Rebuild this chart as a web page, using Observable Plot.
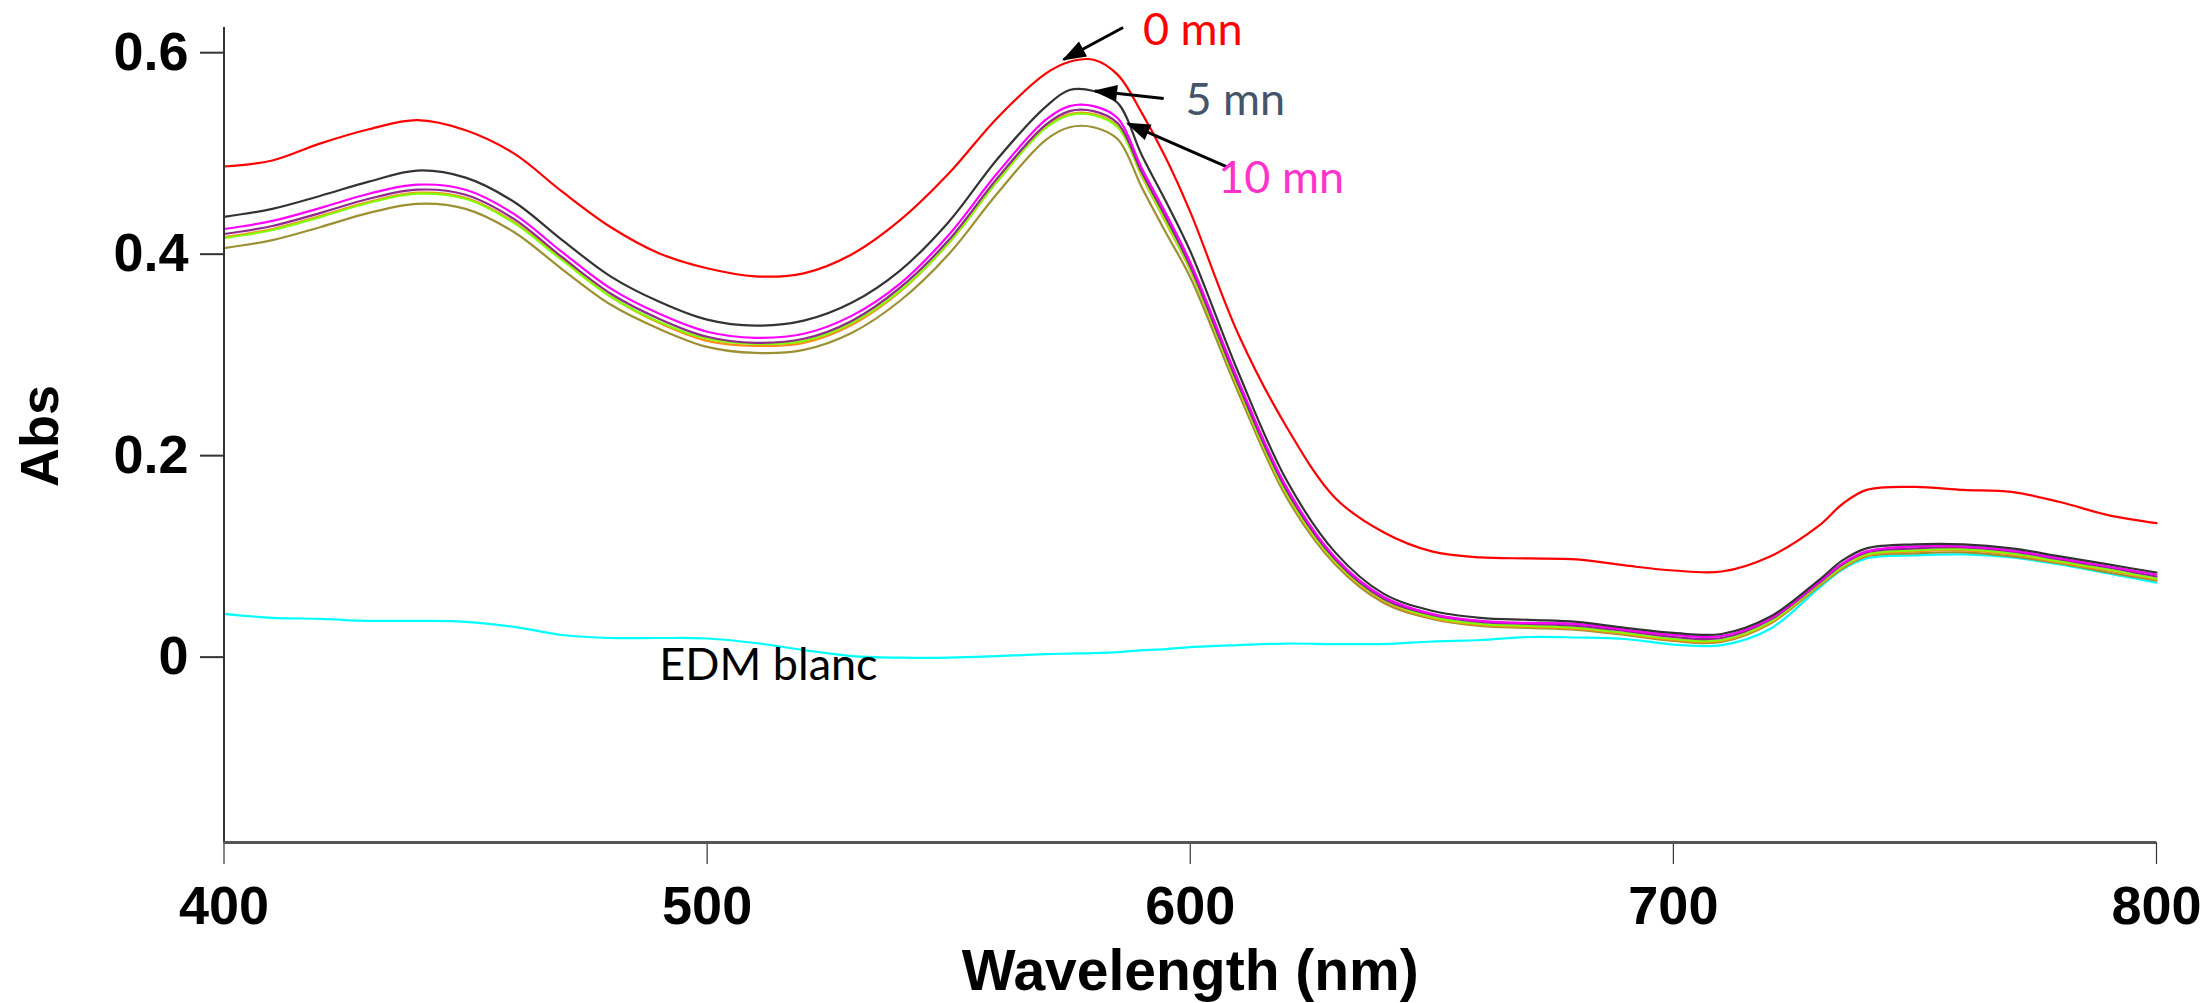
<!DOCTYPE html>
<html>
<head>
<meta charset="utf-8">
<script src="https://cdn.jsdelivr.net/npm/d3@7"></script>
<script src="https://cdn.jsdelivr.net/npm/@observablehq/plot@0.6"></script>
<style>
  html, body { margin: 0; padding: 0; background: #fff; }
  #chart svg { display: block; }
</style>
</head>
<body>
<div id="chart"></div>
<script>
// ---- Data ----
const wavelengths = [400,410,420,430,440,450,460,470,480,490,500,510,520,530,540,550,560,570,575,580,585,590,595,600,610,620,630,640,650,660,670,680,690,700,710,720,730,735,740,750,760,770,780,790,800];

const abs0mn = [0.487,0.493,0.510,0.524,0.533,0.523,0.500,0.462,0.427,0.401,0.386,0.378,0.381,0.400,0.434,0.480,0.535,0.579,0.591,0.593,0.578,0.540,0.495,0.442,0.320,0.228,0.158,0.124,0.105,0.099,0.098,0.097,0.091,0.086,0.085,0.100,0.130,0.152,0.166,0.169,0.166,0.164,0.154,0.141,0.133];
const abs5mn = [0.437,0.445,0.458,0.472,0.483,0.476,0.452,0.414,0.378,0.353,0.335,0.329,0.334,0.352,0.384,0.432,0.494,0.546,0.563,0.562,0.550,0.498,0.452,0.403,0.282,0.175,0.104,0.063,0.046,0.039,0.037,0.035,0.029,0.024,0.023,0.040,0.076,0.096,0.108,0.112,0.112,0.108,0.100,0.092,0.084];
const abs10mn = [0.425,0.433,0.446,0.460,0.469,0.464,0.440,0.402,0.366,0.341,0.323,0.317,0.321,0.339,0.371,0.419,0.480,0.533,0.547,0.547,0.535,0.485,0.440,0.392,0.274,0.168,0.099,0.060,0.043,0.036,0.034,0.033,0.027,0.022,0.021,0.038,0.074,0.093,0.105,0.110,0.110,0.106,0.098,0.090,0.082];
const absPurple = [0.420,0.428,0.441,0.455,0.464,0.459,0.435,0.397,0.361,0.336,0.318,0.312,0.316,0.334,0.367,0.414,0.475,0.528,0.542,0.542,0.530,0.481,0.436,0.388,0.270,0.165,0.097,0.058,0.042,0.035,0.033,0.031,0.026,0.020,0.019,0.037,0.073,0.092,0.104,0.108,0.109,0.105,0.097,0.089,0.080];
const absGreen = [0.416,0.424,0.437,0.451,0.460,0.455,0.431,0.394,0.358,0.333,0.316,0.311,0.314,0.332,0.364,0.411,0.472,0.525,0.538,0.538,0.526,0.478,0.432,0.385,0.267,0.162,0.095,0.057,0.040,0.033,0.031,0.029,0.024,0.018,0.017,0.035,0.072,0.090,0.102,0.106,0.107,0.103,0.095,0.087,0.078];
const absOrange = [0.417,0.425,0.438,0.452,0.461,0.456,0.432,0.395,0.358,0.332,0.314,0.309,0.312,0.330,0.363,0.411,0.472,0.526,0.539,0.539,0.527,0.477,0.431,0.384,0.266,0.161,0.094,0.056,0.039,0.032,0.030,0.028,0.023,0.017,0.016,0.034,0.071,0.089,0.101,0.105,0.106,0.102,0.094,0.086,0.077];
const absOlive = [0.406,0.414,0.427,0.441,0.450,0.445,0.422,0.385,0.350,0.326,0.308,0.302,0.305,0.322,0.354,0.400,0.460,0.513,0.526,0.526,0.514,0.466,0.421,0.377,0.262,0.158,0.092,0.054,0.038,0.031,0.029,0.027,0.022,0.016,0.015,0.033,0.070,0.088,0.100,0.103,0.104,0.100,0.093,0.084,0.076];
const absBlank = [0.043,0.039,0.038,0.036,0.036,0.035,0.030,0.022,0.019,0.019,0.0185,0.014,0.007,0.001,-0.0005,-0.0005,0.001,0.003,0.0035,0.004,0.005,0.007,0.008,0.010,0.012,0.0135,0.013,0.013,0.0155,0.017,0.020,0.0195,0.018,0.0125,0.012,0.028,0.068,0.087,0.098,0.101,0.102,0.099,0.092,0.083,0.074];

// draw order (first = bottom)
const seriesNames = ["EDM blanc", "0 mn", "courbe 7", "courbe 5", "courbe 6", "courbe 4", "10 mn", "5 mn"];
const seriesValues = [absBlank, abs0mn, absOlive, absOrange, absGreen, absPurple, abs10mn, abs5mn];
const seriesColors = ["#00ffff", "#ff0000", "#9c9033", "#ff8c1a", "#80ff00", "#8e2a8e", "#ff00ff", "#333333"];

const xTicks = [400, 500, 600, 700, 800];
const yTicks = [0, 0.2, 0.4, 0.6];
const xDomain = [400, 800];
const yDomain = [-0.184, 0.625];

// annotations
const labelTexts = ["0 mn", "5 mn", "10 mn", "EDM blanc"];
const labelX = [590.2, 599.0, 605.8, 490.1];
const labelY = [0.622, 0.5525, 0.4747, -0.0082];
const labelColors = ["#ff0000", "#44546a", "#ff33cc", "#000000"];

const arrowX1 = [586.1, 594.5, 607.6];
const arrowY1 = [0.625, 0.5545, 0.4867];
const arrowX2 = [573.8, 580.3, 587.1];
const arrowY2 = [0.5932, 0.562, 0.5297];

// ---- Build tables ----
const rows = [];
seriesNames.forEach((name, i) => {
  wavelengths.forEach((w, j) => rows.push({series: name, wl: w, abs: seriesValues[i][j]}));
});
const labels = labelTexts.map((t, i) => ({text: t, x: labelX[i], y: labelY[i], color: labelColors[i]}));
const arrows = arrowX1.map((_, i) => ({x1: arrowX1[i], y1: arrowY1[i], x2: arrowX2[i], y2: arrowY2[i]}));

const chart = Plot.plot({
  width: 2207,
  height: 1003,
  marginLeft: 223.5,
  marginRight: 51,
  marginTop: 27,
  marginBottom: 161,
  style: {fontFamily: "'Liberation Sans', Arial, sans-serif", fontSize: "54px", fontWeight: "bold", color: "#000", background: "#fff"},
  x: {domain: xDomain},
  y: {domain: yDomain},
  color: {domain: seriesNames, range: seriesColors},
  marks: [
    Plot.axisX({ticks: xTicks, tickSize: 22, tickPadding: 21, label: null, stroke: "#333", strokeWidth: 1.2, fill: "#000", fontSize: 54, fontWeight: "bold", tickFormat: d => String(d)}),
    Plot.axisY({ticks: yTicks, tickSize: 23.5, tickPadding: 12, label: null, stroke: "#333", strokeWidth: 2, fill: "#000", fontSize: 54, fontWeight: "bold", tickFormat: d => d === 0 ? "0" : d.toFixed(1)}),
    Plot.line(rows, {x: "wl", y: "abs", z: "series", stroke: "series", strokeWidth: 2.2, curve: "catmull-rom"}),
    Plot.ruleX([xDomain[0]], {stroke: "#333", strokeWidth: 2}),
    Plot.ruleY([yDomain[0]], {stroke: "#555", strokeWidth: 3}),
    Plot.text(["Abs"], {frameAnchor: "left", dx: -183, dy: 52, rotate: -90, fontSize: 54, fontWeight: "bold", fill: "#000"}),
    Plot.text(["Wavelength (nm)"], {frameAnchor: "bottom", dy: 147, fontSize: 57, fontWeight: "bold", fill: "#000"}),
    Plot.link(arrows, {x1: "x1", y1: "y1", x2: "x2", y2: "y2", stroke: "#000", strokeWidth: 3, markerEnd: "arrow"}),
    Plot.text(labels, {x: "x", y: "y", text: "text", fill: "color", textAnchor: "start", fontFamily: "Lato, 'Open Sans', sans-serif", fontWeight: "normal", fontSize: 45})
  ]
});

// filled arrowheads
d3.select(chart).selectAll("marker").each(function() {
  const m = d3.select(this);
  m.attr("markerUnits", "userSpaceOnUse")
   .attr("viewBox", "-26 -12 30 24")
   .attr("markerWidth", 30)
   .attr("markerHeight", 24)
   .attr("refX", 0).attr("refY", 0)
   .attr("fill", "#000").attr("stroke", "none")
   .style("overflow", "visible");
  m.selectAll("path").attr("d", "M-22,-8.5L2,0L-22,8.5Z").attr("fill", "#000").attr("stroke", "none");
});

document.getElementById("chart").appendChild(chart);
</script>
</body>
</html>
